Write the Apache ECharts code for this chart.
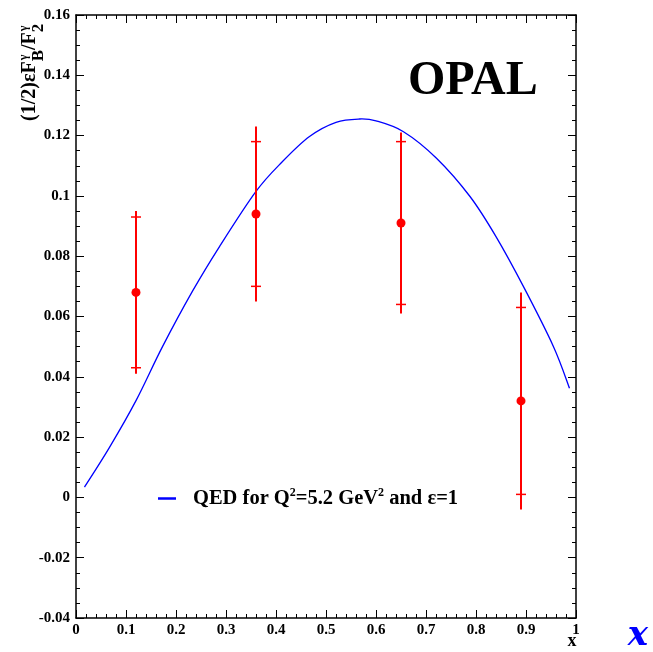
<!DOCTYPE html>
<html>
<head>
<meta charset="utf-8">
<title>OPAL (1/2) epsilon F_B / F_2</title>
<script src="https://cdn.jsdelivr.net/npm/echarts@6/dist/echarts.min.js"></script>
<style>
  html, body { margin: 0; padding: 0; background: #fff; }
  #chart { width: 653px; height: 652px; }
</style>
</head>
<body>
<div id="chart"></div>
<script>
// Tick labels of both axes
const xTickLabels = ['0', '0.1', '0.2', '0.3', '0.4', '0.5', '0.6', '0.7', '0.8', '0.9', '1'];
const yTickLabels = ['-0.04', '-0.02', '0', '0.02', '0.04', '0.06', '0.08', '0.1', '0.12', '0.14', '0.16'];

// OPAL measurements: x, central value, statistical and total errors
const dataX = [0.12, 0.36, 0.65, 0.89];
const dataY = [0.068, 0.094, 0.091, 0.032];
const statErr = [0.025, 0.024, 0.027, 0.031];
const totalErr = [0.027, 0.029, 0.030, 0.036];

// QED expectation for Q^2 = 5.2 GeV^2 and epsilon = 1
const qedX = [0.017, 0.067, 0.12, 0.173, 0.233, 0.287, 0.36, 0.413, 0.467, 0.52, 0.567, 0.60, 0.655, 0.721, 0.788, 0.84, 0.895, 0.955, 0.987];
const qedY = [0.0034, 0.0166, 0.0321, 0.0500, 0.0684, 0.0832, 0.1015, 0.1114, 0.1197, 0.1244, 0.1255, 0.1249, 0.1213, 0.1125, 0.0998, 0.0865, 0.0699, 0.050, 0.0362];

const SERIF = '"Liberation Serif", "Times New Roman", serif';
const RED = '#ff0000';
const BLUE = '#0000ff';

const chart = echarts.init(document.getElementById('chart'), null, { renderer: 'canvas' });

const measureCtx = document.createElement('canvas').getContext('2d');
function textWidth(text, font) {
  measureCtx.font = font;
  return measureCtx.measureText(text).width;
}

// Rotated y-axis title: (1/2) eps F_B^gamma / F_2^gamma
function buildYTitle() {
  const mainFont = 'bold 20px ' + SERIF;
  const supFont = 'bold 12px ' + SERIF;
  const subFont = 'bold 17px ' + SERIF;
  const parts = [];
  let pos = 0;
  function main(t) {
    parts.push({ type: 'text', style: { text: t, x: pos, y: 0, font: mainFont, fill: '#000', textVerticalAlign: 'bottom' } });
    pos += textWidth(t, mainFont);
  }
  function supSub(sup, sub) {
    parts.push({ type: 'text', style: { text: sup, x: pos + 1, y: -10, font: supFont, fill: '#000', textVerticalAlign: 'bottom' } });
    parts.push({ type: 'text', style: { text: sub, x: pos, y: 7, font: subFont, fill: '#000', textVerticalAlign: 'bottom' } });
    pos += Math.max(textWidth(sup, supFont) + 1, textWidth(sub, subFont));
  }
  main('(1/2)\u03b5F');
  supSub('\u03b3', 'B');
  main('/F');
  supSub('\u03b3', '2');
  return {
    type: 'group',
    x: 40,
    y: 121,
    rotation: Math.PI / 2,
    children: parts
  };
}

function fmtTick(labels) {
  return function (v) {
    const s = String(+v.toFixed(2));
    return labels.indexOf(s) >= 0 ? s : '';
  };
}

// Smooth path (cardinal spline) through the curve points, in pixel space
function splinePath(pts) {
  let d = 'M' + pts[0][0] + ' ' + pts[0][1];
  for (let i = 0; i < pts.length - 1; i++) {
    const p0 = pts[Math.max(i - 1, 0)];
    const p1 = pts[i];
    const p2 = pts[i + 1];
    const p3 = pts[Math.min(i + 2, pts.length - 1)];
    const c1x = p1[0] + (p2[0] - p0[0]) / 6;
    const c1y = p1[1] + (p2[1] - p0[1]) / 6;
    const c2x = p2[0] - (p3[0] - p1[0]) / 6;
    const c2y = p2[1] - (p3[1] - p1[1]) / 6;
    d += ' C' + c1x + ' ' + c1y + ' ' + c2x + ' ' + c2y + ' ' + p2[0] + ' ' + p2[1];
  }
  return d;
}

const axisCommon = {
  type: 'value',
  axisLine: { show: true, onZero: false, lineStyle: { color: '#000', width: 1.5 } },
  axisTick: { show: true, inside: true, length: 8, lineStyle: { color: '#000', width: 1 } },
  minorTick: { show: true, length: 4, lineStyle: { color: '#000', width: 1 } },
  splitLine: { show: false },
  minorSplitLine: { show: false }
};

const labelStyle = { color: '#000', fontFamily: SERIF, fontWeight: 'bold', fontSize: 15 };

const errorData = dataX.map((x, i) => [
  x, dataY[i],
  dataY[i] - statErr[i], dataY[i] + statErr[i],
  dataY[i] - totalErr[i], dataY[i] + totalErr[i]
]);

const option = {
  animation: false,
  backgroundColor: '#fff',
  grid: { left: 76, right: 77, top: 15, bottom: 34, containLabel: false },
  xAxis: [
    Object.assign({}, axisCommon, {
      position: 'bottom', min: 0, max: 1, interval: 0.1,
      minorTick: Object.assign({}, axisCommon.minorTick, { splitNumber: 5 }),
      axisLabel: Object.assign({ margin: 5, formatter: fmtTick(xTickLabels) }, labelStyle)
    }),
    Object.assign({}, axisCommon, {
      position: 'top', min: 0, max: 1, interval: 0.1,
      minorTick: Object.assign({}, axisCommon.minorTick, { splitNumber: 5 }),
      axisLabel: { show: false }
    })
  ],
  yAxis: [
    Object.assign({}, axisCommon, {
      position: 'left', min: -0.04, max: 0.16, interval: 0.02,
      minorTick: Object.assign({}, axisCommon.minorTick, { splitNumber: 4 }),
      axisLabel: Object.assign({ margin: 6, formatter: fmtTick(yTickLabels) }, labelStyle)
    }),
    Object.assign({}, axisCommon, {
      position: 'right', min: -0.04, max: 0.16, interval: 0.02,
      minorTick: Object.assign({}, axisCommon.minorTick, { splitNumber: 4 }),
      axisLabel: { show: false }
    })
  ],
  legend: {
    show: true,
    left: 153,
    top: 482,
    icon: 'rect',
    itemWidth: 18,
    itemHeight: 2.5,
    data: ['QED'],
    formatter: function () {
      return 'QED for Q{s|2}=5.2 GeV{s|2} and \u03b5=1';
    },
    textStyle: {
      color: '#000', fontFamily: SERIF, fontWeight: 'bold', fontSize: 20.5,
      padding: [0, 0, 0, 12],
      rich: {
        s: { fontFamily: SERIF, fontWeight: 'bold', fontSize: 12, color: '#000', padding: [0, 0, 11, 0] }
      }
    }
  },
  series: [
    {
      name: 'QED',
      type: 'custom',
      xAxisIndex: 0,
      yAxisIndex: 0,
      data: qedX.map((x, i) => [x, qedY[i]]),
      encode: { x: 0, y: 1 },
      itemStyle: { color: BLUE },
      z: 2,
      renderItem: function (params, api) {
        // the whole curve is drawn once, with the first data item
        if (params.dataIndex !== 0) return null;
        const pts = qedX.map((x, i) => api.coord([x, qedY[i]]));
        return {
          type: 'path',
          shape: { pathData: splinePath(pts) },
          style: { fill: null, stroke: BLUE, lineWidth: 1.3 }
        };
      }
    },
    {
      name: 'OPAL',
      type: 'custom',
      xAxisIndex: 0,
      yAxisIndex: 0,
      data: errorData,
      encode: { x: 0, y: [1, 2, 3, 4, 5] },
      z: 3,
      renderItem: function (params, api) {
        const x = api.value(0);
        const c = api.coord([x, api.value(1)]);
        const sLo = api.coord([x, api.value(2)]);
        const sHi = api.coord([x, api.value(3)]);
        const tLo = api.coord([x, api.value(4)]);
        const tHi = api.coord([x, api.value(5)]);
        const half = 5;
        return {
          type: 'group',
          children: [
            { type: 'line', shape: { x1: c[0], y1: tHi[1], x2: c[0], y2: tLo[1] }, style: { stroke: RED, lineWidth: 2 } },
            { type: 'line', shape: { x1: c[0] - half, y1: sHi[1], x2: c[0] + half, y2: sHi[1] }, style: { stroke: RED, lineWidth: 1.5 } },
            { type: 'line', shape: { x1: c[0] - half, y1: sLo[1], x2: c[0] + half, y2: sLo[1] }, style: { stroke: RED, lineWidth: 1.5 } },
            { type: 'circle', shape: { cx: c[0], cy: c[1], r: 4.5 }, style: { fill: RED } }
          ]
        };
      }
    }
  ],
  graphic: [
    buildYTitle(),
    {
      type: 'text', left: 408, top: 58,
      style: { text: 'OPAL', font: 'bold 48px ' + SERIF, fill: '#000' }
    },
    {
      type: 'text', x: 572, y: 641,
      style: { text: 'x', font: 'bold 18px ' + SERIF, fill: '#000', textAlign: 'center', textVerticalAlign: 'middle' }
    },
    {
      type: 'text', x: 638, y: 636,
      style: { text: 'x', font: 'italic bold 34px "DejaVu Serif", serif', fill: BLUE, textAlign: 'center', textVerticalAlign: 'middle' }
    }
  ]
};

chart.setOption(option);
</script>
</body>
</html>
